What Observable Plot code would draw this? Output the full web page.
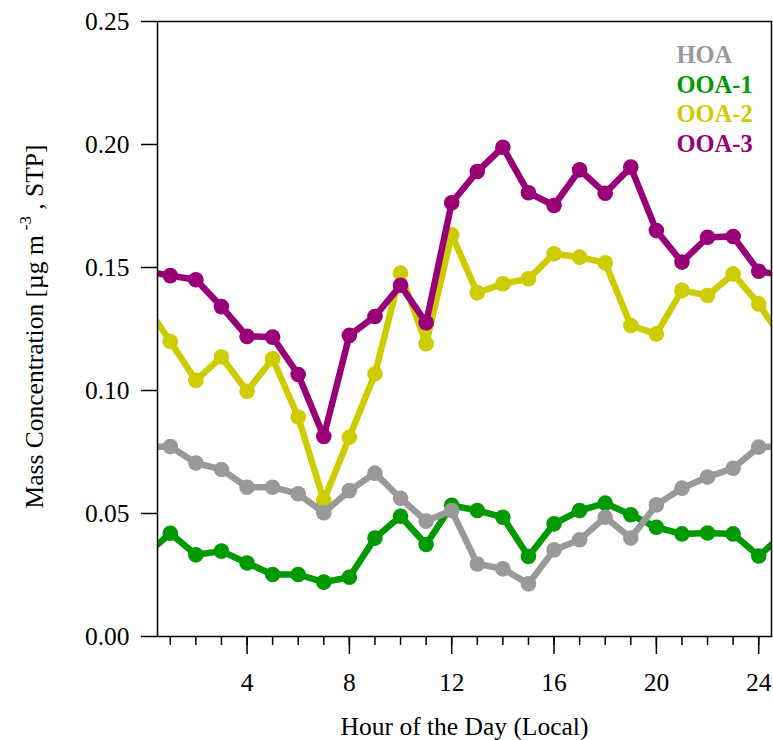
<!DOCTYPE html>
<html><head><meta charset="utf-8">
<script src="https://cdn.jsdelivr.net/npm/d3@7"></script>
<script src="https://cdn.jsdelivr.net/npm/@observablehq/plot@0.6"></script>
<style>body{margin:0;background:#fff} svg{font-family:"Liberation Serif",serif}</style>
</head><body><div id="chart"></div>
<script>
const hours = [1,2,3,4,5,6,7,8,9,10,11,12,13,14,15,16,17,18,19,20,21,22,23,24];
const HOA  = [0.0772,0.0705,0.0679,0.0607,0.0607,0.0580,0.0503,0.0593,0.0664,0.0562,0.0469,0.0512,0.0295,0.0275,0.0214,0.0352,0.0393,0.0485,0.0400,0.0535,0.0603,0.0648,0.0684,0.0770];
const OOA1 = [0.0420,0.0332,0.0347,0.0299,0.0252,0.0252,0.0221,0.0241,0.0400,0.0489,0.0374,0.0533,0.0512,0.0485,0.0325,0.0458,0.0512,0.0542,0.0495,0.0444,0.0417,0.0421,0.0417,0.0327];
const OOA2 = [0.1199,0.1041,0.1136,0.0997,0.1129,0.0892,0.0553,0.0810,0.1068,0.1477,0.1190,0.1633,0.1397,0.1434,0.1454,0.1556,0.1542,0.1519,0.1264,0.1230,0.1407,0.1386,0.1474,0.1352];
const OOA3 = [0.1467,0.1450,0.1341,0.1220,0.1217,0.1065,0.0813,0.1224,0.1301,0.1428,0.1275,0.1763,0.1890,0.1989,0.1804,0.1752,0.1897,0.1802,0.1908,0.1650,0.1522,0.1623,0.1626,0.1485];
const seriesNames = ["HOA","OOA-1","OOA-2","OOA-3"];
const seriesColors = ["#999999","#009900","#cccc00","#990077"];
const seriesValues = [HOA, OOA1, OOA2, OOA3];
const yTicks = [0,0.05,0.10,0.15,0.20,0.25];
const xMajorTicks = [4,8,12,16,20,24];
const xLabel = "Hour of the Day (Local)";

const drawOrder = [1,2,0,3];
const marks = [];
const n = hours.length;
for (const i of drawOrder) {
  const vals = seriesValues[i];
  const pts = hours.map((h,j)=>({hour:h, value:vals[j]}));
  // the day wraps around: hour 0 == hour 24, hour 25 == hour 1
  const wrapped = [{hour:hours[0]-1, value:vals[n-1]}, ...pts, {hour:hours[n-1]+1, value:vals[0]}];
  marks.push(Plot.line(wrapped, {x:"hour", y:"value", stroke:seriesColors[i], strokeWidth:6.5, clip:true}));
  marks.push(Plot.dot(pts, {x:"hour", y:"value", r:7.8, fill:seriesColors[i]}));
}
seriesNames.forEach((s,i)=>{
  marks.push(Plot.text([s], {frameAnchor:"top-left", lineAnchor:"middle", dx:519, dy:34+i*29.5, text:d=>d, fill:seriesColors[i], fontWeight:"bold", fontSize:24.5, textAnchor:"start"}));
});

const plot = Plot.plot({
  width:773, height:740,
  marginLeft:157, marginRight:2, marginTop:21, marginBottom:104,
  style:{fontFamily:"Liberation Serif, serif", fontSize:"25px", color:"black", background:"white"},
  x:{domain:[0.5,24.5]},
  y:{domain:[0,0.25]},
  marks:[
    ...marks,
    Plot.frame({stroke:"black", strokeWidth:1.5}),
    Plot.axisY({ticks:yTicks, tickFormat:d3.format(".2f"), tickSize:16, tickPadding:12, fontSize:25.5, label:null, strokeWidth:1.5}),
    Plot.axisX({ticks:hours, tickSize:9, tickFormat:()=>"", label:null, strokeWidth:1.5}),
    Plot.axisX({ticks:xMajorTicks, tickSize:18, tickPadding:18, fontSize:25.5, label:null, strokeWidth:1.5}),
    Plot.text([xLabel], {frameAnchor:"bottom", lineAnchor:"middle", dy:90, text:d=>d, fontSize:25.5})
  ]
});
document.getElementById("chart").appendChild(plot);

const svg = d3.select(plot);
const yl = svg.append("text")
  .attr("transform", `translate(43,${(21+636)/2 - 2}) rotate(-90)`)
  .attr("text-anchor","middle").attr("font-size",25.5).attr("fill","black")
  .attr("font-family","Liberation Serif, serif");
yl.append("tspan").text("Mass Concentration [µg m");
yl.append("tspan").attr("dx",5).attr("dy",-12).attr("font-size",17).text("-3");
yl.append("tspan").attr("dy",12).text(" , STP]");
</script></body></html>
